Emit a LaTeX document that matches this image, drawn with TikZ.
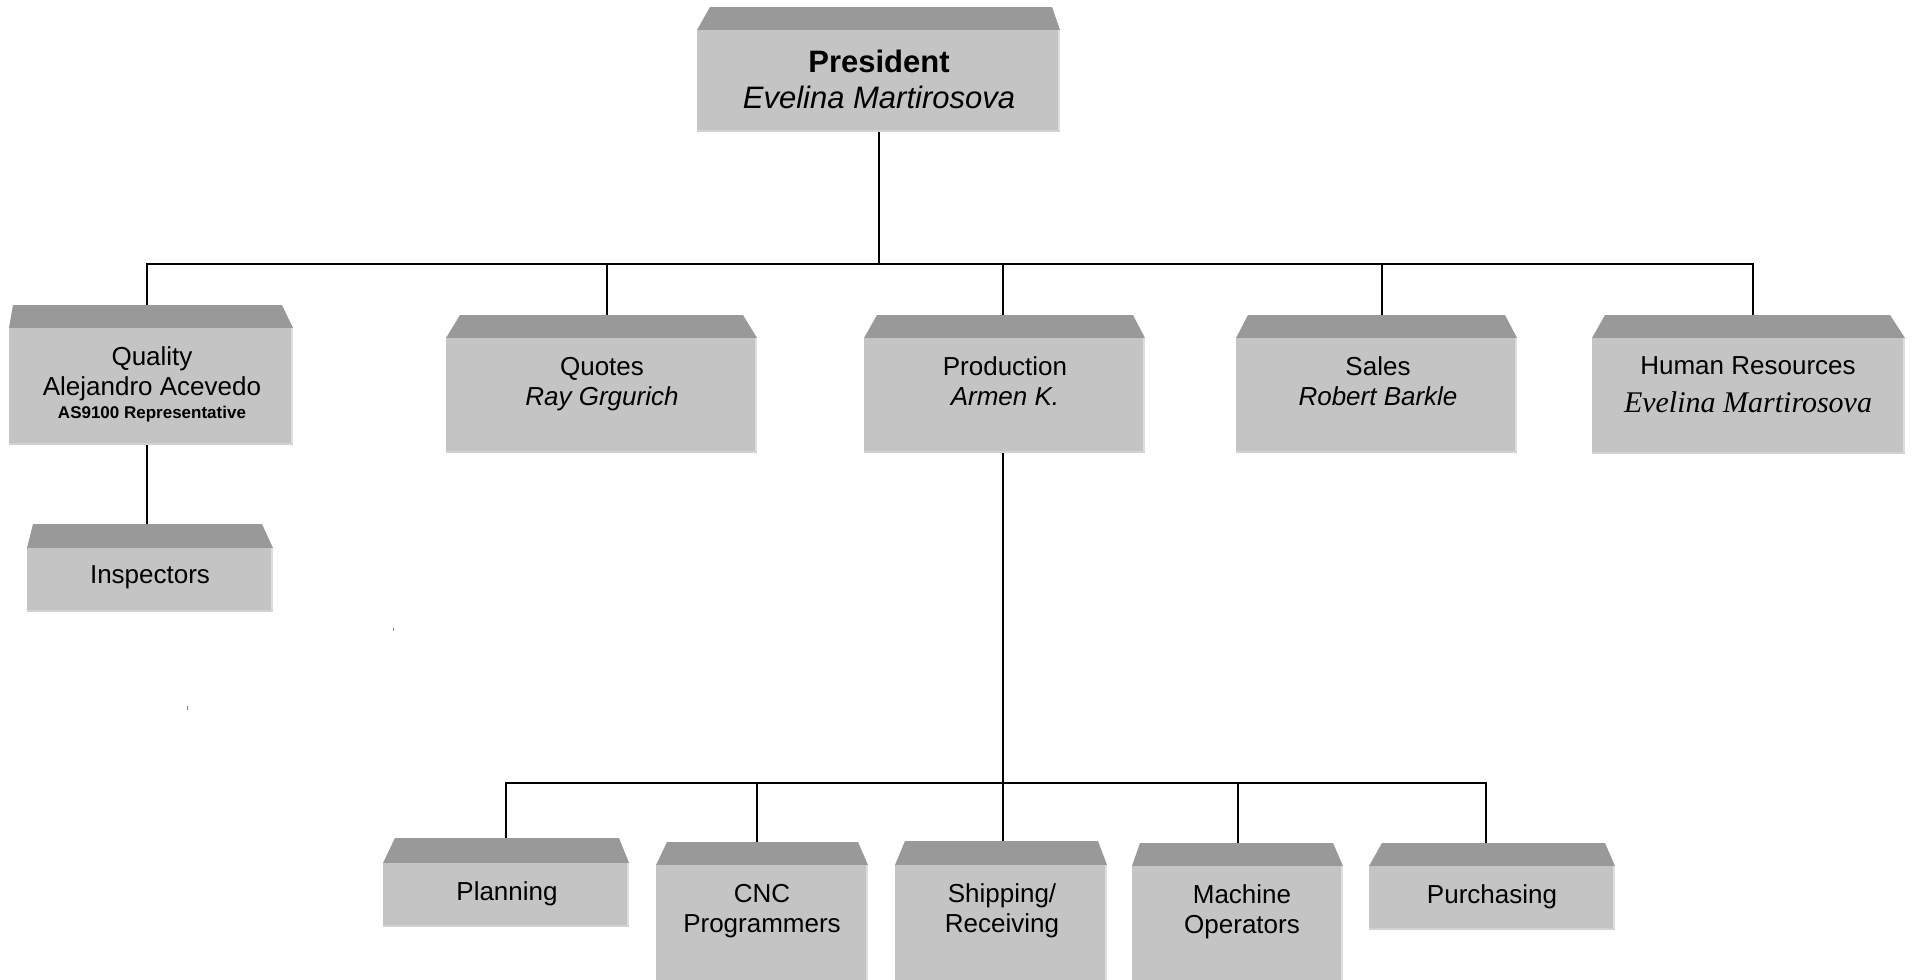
\documentclass[tikz,border=0pt]{standalone}
\usepackage{fontspec}
\setmainfont{Liberation Sans}
\newfontfamily\timesfont{Liberation Serif}
\usetikzlibrary{calc}
\definecolor{topgray}{HTML}{999999}
\definecolor{frontgray}{HTML}{C4C4C4}
\definecolor{edgegray}{HTML}{DEDEDE}
\definecolor{botgray}{HTML}{D2D2D2}
\tikzset{
  frontbox/.style={fill=frontgray, inner sep=0pt, outer sep=0pt, anchor=north west},
  lbl/.style={font=\fontsize{26}{30}\selectfont, align=center, anchor=base, inner sep=0pt},
  conn/.style={line width=1.8pt, black}
}
% name, x1, x2, ytop, yfront, ybot, insetL, insetR
\newcommand{\orgbox}[8]{%
  \fill[topgray] (#2+#7,#4) -- (#3-#8,#4) -- (#3,#5) -- (#2,#5) -- cycle;
  \node[frontbox, minimum width={(#3-#2)*1pt}, minimum height={(#6-#5)*1pt}] (#1) at (#2,#5) {};
  \fill[edgegray] (#3-2.5,#5) rectangle (#3,#6);
  \fill[botgray] (#2,#6-2) rectangle (#3,#6);
}
\begin{document}
\begin{tikzpicture}[x=1pt,y=-1pt]
\useasboundingbox[fill=white] (0,0) rectangle (1912,980);
% boxes
\orgbox{pres}{697}{1060}{7}{30}{132}{13}{8}
\orgbox{qual}{9}{293}{305}{328}{445}{4}{11}
\orgbox{quo}{446}{757}{315}{338}{453}{14}{14}
\orgbox{prod}{864}{1145}{315}{338}{453}{13}{12}
\orgbox{sal}{1236}{1517}{315}{338}{453}{12}{12}
\orgbox{hr}{1592}{1905}{315}{338}{454}{13}{15}
\orgbox{insp}{27}{273}{524}{548}{612}{6}{11}
\orgbox{plan}{383}{629}{838}{863}{927}{12}{10}
\orgbox{cnc}{656}{868}{842}{865}{990}{11}{10}
\orgbox{ship}{895}{1107}{841}{865}{990}{10}{9}
\orgbox{mach}{1132}{1343}{843}{866}{990}{8}{10}
\orgbox{pur}{1369}{1615}{843}{866}{930}{13}{10}
% connector points
\coordinate (bus1) at (879,264);
\coordinate (bus2) at (1003,783);
\coordinate (qual-top) at (147,305);
\coordinate (quo-top) at (607,315);
\coordinate (prod-top) at (1003,315);
\coordinate (sal-top) at (1382,315);
\coordinate (hr-top) at (1753,315);
\coordinate (insp-top) at (147,524);
\coordinate (plan-top) at (506,838);
\coordinate (cnc-top) at (757,842);
\coordinate (ship-top) at (1003,841);
\coordinate (mach-top) at (1238,843);
\coordinate (pur-top) at (1486,843);
% connectors
\draw[conn] (bus1 |- pres.south) -- (bus1);
\draw[conn] (qual-top) -- (qual-top |- bus1) -- (hr-top |- bus1) -- (hr-top);
\foreach \n in {quo,prod,sal} \draw[conn] (\n-top) -- (\n-top |- bus1);
\draw[conn] (qual-top |- qual.south) -- (insp-top);
\draw[conn] (ship-top |- prod.south) -- (ship-top);
\draw[conn] (plan-top) -- (plan-top |- bus2) -- (pur-top |- bus2) -- (pur-top);
\foreach \n in {cnc,mach} \draw[conn] (\n-top) -- (\n-top |- bus2);
% texts (anchor = baseline of the last line)
\node[lbl, font=\fontsize{31}{36}\selectfont] (pres-t) at (879,108) {{\bfseries President}\\{\itshape Evelina Martirosova}};
\node[lbl] (qual-t) at (152,418) {Quality\\Alejandro Acevedo\\[-7pt]{\fontsize{17}{20}\selectfont\bfseries AS9100 Representative}};
\node[lbl] (quo-t) at (602,405) {Quotes\\{\itshape Ray Grgurich}};
\node[lbl] (prod-t) at (1005,405) {Production\\{\itshape Armen K.}};
\node[lbl] (sal-t) at (1378,405) {Sales\\{\itshape Robert Barkle}};
\node[lbl] (hr-t) at (1748,412) {Human Resources\\[8pt]{\timesfont\itshape\fontsize{30}{30}\selectfont Evelina Martirosova}};
\node[lbl] (insp-t) at (150,583) {Inspectors};
\node[lbl] (plan-t) at (507,900) {Planning};
\node[lbl] (cnc-t) at (762,932) {CNC\\Programmers};
\node[lbl] (ship-t) at (1002,932) {Shipping/\\Receiving};
\node[lbl] (mach-t) at (1242,933) {Machine\\Operators};
\node[lbl] (pur-t) at (1492,903) {Purchasing};
% stray specks
\fill[gray] (392.5,628) rectangle (394,631);
\fill[gray] (186.5,706) rectangle (188,710);
\end{tikzpicture}
\end{document}
